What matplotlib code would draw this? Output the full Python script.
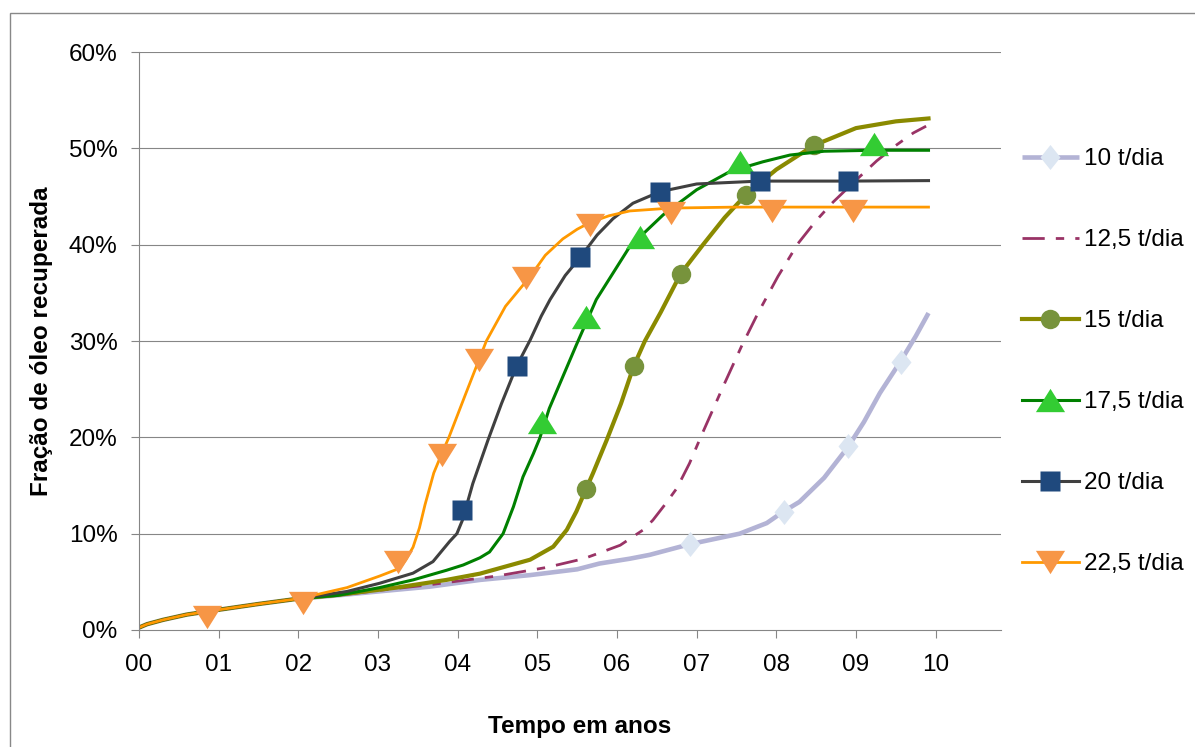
import numpy as np
import matplotlib.pyplot as plt
from matplotlib.patches import Rectangle
from matplotlib.ticker import FixedLocator, FuncFormatter
from matplotlib.legend_handler import HandlerTuple

plt.rcParams['font.family'] = ['Liberation Sans', 'DejaVu Sans']

# shared start of every curve (years, % recovered)
t0 = [0, 0.1, 0.3, 0.6, 1.0, 1.5, 2.0]
f0 = [0.25, 0.6, 1.05, 1.6, 2.1, 2.7, 3.25]

# 10 t/dia
t10 = [2.5, 3.0, 3.65, 4.28, 4.91, 5.5, 5.78, 6.16, 6.41, 6.91, 7.54, 7.88, 8.09, 8.29,
       8.6, 8.9, 9.1, 9.3, 9.56, 9.75, 9.91]
f10 = [3.6, 4.0, 4.5, 5.2, 5.7, 6.3, 6.9, 7.4, 7.8, 8.9, 10.0, 11.1, 12.3, 13.3,
       15.8, 19.0, 21.6, 24.6, 27.9, 30.5, 32.9]
m10_t = [6.91, 8.09, 8.90, 9.56]
m10_f = [8.9, 12.3, 19.1, 27.8]

# 12,5 t/dia
t125 = [2.5, 3.0, 3.65, 4.49, 5.12, 5.58, 5.78, 6.04, 6.33, 6.45, 6.6, 6.75, 6.91, 7.06,
        7.35, 7.56, 7.77, 8.02, 8.27, 8.5, 8.71, 9.0, 9.26, 9.5, 9.72, 9.88]
f125 = [3.6, 4.1, 4.7, 5.6, 6.5, 7.4, 8.0, 8.8, 10.4, 11.4, 13.0, 14.7, 17.3, 20.2,
        25.6, 29.4, 32.9, 36.7, 40.1, 42.5, 44.4, 46.7, 48.7, 50.3, 51.6, 52.3]

# 15 t/dia
t15 = [2.5, 3.23, 3.86, 4.28, 4.91, 5.2, 5.37, 5.49, 5.61, 5.70, 5.87, 6.05, 6.21, 6.35,
       6.55, 6.80, 7.08, 7.35, 7.62, 8.0, 8.47, 9.0, 9.5, 9.91]
f15 = [3.65, 4.4, 5.2, 5.85, 7.3, 8.65, 10.4, 12.3, 14.6, 16.3, 19.7, 23.5, 27.4, 30.0,
       33.0, 37.0, 40.0, 42.8, 45.2, 47.8, 50.3, 52.1, 52.8, 53.1]
m15_t = [5.61, 6.21, 6.80, 7.62, 8.47]
m15_f = [14.6, 27.4, 37.0, 45.2, 50.3]

# 17,5 t/dia
t175 = [2.5, 3.02, 3.44, 3.86, 4.07, 4.28, 4.40, 4.57, 4.70, 4.82, 4.95, 5.03, 5.15, 5.32,
        5.49, 5.74, 6.16, 6.58, 7.0, 7.42, 7.83, 8.17, 8.6, 9.22, 9.91]
f175 = [3.6, 4.4, 5.2, 6.2, 6.75, 7.5, 8.1, 10.0, 12.8, 15.9, 18.3, 19.9, 23.0, 26.3,
        29.6, 34.3, 39.8, 43.1, 45.7, 47.6, 48.6, 49.3, 49.7, 49.8, 49.8]
m175_t = [5.06, 5.61, 6.29, 7.54, 9.22]
m175_f = [21.6, 32.5, 40.8, 48.6, 50.5]

# 20 t/dia
t20 = [2.61, 3.02, 3.44, 3.69, 3.90, 3.99, 4.06, 4.19, 4.38, 4.55, 4.74, 4.91, 5.05, 5.16,
       5.35, 5.53, 5.75, 5.95, 6.2, 6.54, 7.0, 7.79, 8.9, 9.91]
f20 = [4.0, 4.85, 5.9, 7.1, 9.2, 10.0, 11.4, 15.2, 19.7, 23.5, 27.4, 30.1, 32.6, 34.3,
       36.8, 38.6, 41.0, 42.7, 44.3, 45.5, 46.3, 46.6, 46.6, 46.65]
m20_t = [4.06, 4.74, 5.54, 6.54, 7.79, 8.90]
m20_f = [12.5, 27.4, 38.7, 45.5, 46.6, 46.6]

# 22,5 t/dia
t225 = [2.19, 2.61, 3.02, 3.27, 3.35, 3.44, 3.52, 3.59, 3.7, 3.80, 3.89, 4.1, 4.36, 4.6,
        4.91, 5.1, 5.32, 5.5, 5.66, 5.9, 6.16, 6.68, 7.5, 9.91]
f225 = [3.6, 4.4, 5.6, 6.4, 7.3, 8.6, 10.6, 13.0, 16.3, 18.3, 20.0, 24.5, 30.0, 33.6,
        36.7, 38.9, 40.6, 41.6, 42.3, 43.0, 43.5, 43.8, 43.9, 43.9]
m225_t = [0.85, 2.06, 3.25, 3.80, 4.27, 4.86, 5.66, 6.68, 7.94, 8.96]
m225_f = [1.35, 2.8, 7.1, 18.2, 28.0, 36.5, 42.0, 43.3, 43.5, 43.5]

labels = ['10 t/dia', '12,5 t/dia', '15 t/dia', '17,5 t/dia', '20 t/dia', '22,5 t/dia']

tri_down = [(-1, 0.8), (1, 0.8), (0, -0.8)]
tri_up = [(-1, -0.8), (1, -0.8), (0, 0.8)]
diamond = [(0, 1), (0.8, 0), (0, -1), (-0.8, 0)]

fig = plt.figure(figsize=(11.95, 7.47), dpi=100)
ax = fig.add_axes([139 / 1195, 1 - 630 / 747, (1001 - 139) / 1195, (630 - 52) / 747])

# outer chart border
fig.patches.append(Rectangle((9.6 / 1195, -0.1), 1.2, 1.1 - 12.7 / 747,
                             transform=fig.transFigure, fill=False,
                             edgecolor='#888888', lw=1.0))

grey = '#868686'
for y in range(10, 70, 10):
    ax.axhline(y, color=grey, lw=0.8, zorder=0)


def curve(t, f):
    return t0 + t, f0 + f


handles = []
x, y = curve(t10, f10)
l1, = ax.plot(x, y, color='#B3B3D5', lw=3.3, solid_capstyle='butt')
k1, = ax.plot(m10_t, m10_f, ls='none', marker=diamond, ms=18, mfc='#DCE6F2', mec='none')
handles.append((l1, k1))

x, y = curve(t125, f125)
l2, = ax.plot(x, y, color='#993366', lw=2.0, dashes=(8, 4, 3, 4))
handles.append(l2)

x, y = curve(t15, f15)
l3, = ax.plot(x, y, color='#8A8A00', lw=3.0)
k3, = ax.plot(m15_t, m15_f, ls='none', marker='o', ms=14, mfc='#77933C', mec='none')
handles.append((l3, k3))

x, y = curve(t175, f175)
l4, = ax.plot(x, y, color='#008000', lw=2.2)
k4, = ax.plot(m175_t, m175_f, ls='none', marker=tri_up, ms=21, mfc='#33CC33', mec='none')
handles.append((l4, k4))

x, y = curve(t20, f20)
l5, = ax.plot(x, y, color='#404040', lw=2.2)
k5, = ax.plot(m20_t, m20_f, ls='none', marker='s', ms=15, mfc='#1F497D', mec='none')
handles.append((l5, k5))

x, y = curve(t225, f225)
l6, = ax.plot(x, y, color='#FF9900', lw=2.0)
k6, = ax.plot(m225_t, m225_f, ls='none', marker=tri_down, ms=21, mfc='#F79646', mec='none')
handles.append((l6, k6))

ax.set_xlim(0, 10.82)
ax.set_ylim(0, 60)
ax.xaxis.set_major_locator(FixedLocator(range(0, 11)))
ax.xaxis.set_major_formatter(FuncFormatter(lambda v, p: '%02d' % int(round(v))))
ax.yaxis.set_major_locator(FixedLocator(range(0, 70, 10)))
ax.yaxis.set_major_formatter(FuncFormatter(lambda v, p: '%d%%' % int(round(v))))
ax.tick_params(axis='both', direction='out', length=5.5, width=0.8, color=grey,
               labelsize=17.5, labelcolor='black')
ax.tick_params(axis='x', pad=12)
ax.tick_params(axis='y', pad=10)
for s in ['top', 'right']:
    ax.spines[s].set_visible(False)
for s in ['left', 'bottom']:
    ax.spines[s].set_color(grey)
    ax.spines[s].set_linewidth(0.8)

fig.text(580 / 1195, 1 - 733 / 747, 'Tempo em anos', ha='center', va='baseline',
         fontsize=17.5, fontweight='bold')
fig.text(48 / 1195, 1 - 341 / 747, 'Fração de óleo recuperada', rotation=90,
         rotation_mode='anchor', ha='center', va='baseline',
         fontsize=17.5, fontweight='bold')

fig.legend(handles, labels, loc='upper left', bbox_to_anchor=(1021.7 / 1195, 1 - 148 / 747),
           bbox_transform=fig.transFigure, frameon=False, fontsize=17.5,
           handlelength=2.36, handletextpad=0.22, labelspacing=2.43, borderpad=0,
           borderaxespad=0, numpoints=1, handler_map={tuple: HandlerTuple(ndivide=1, pad=0)})

fig.savefig('out.png', dpi=100)
